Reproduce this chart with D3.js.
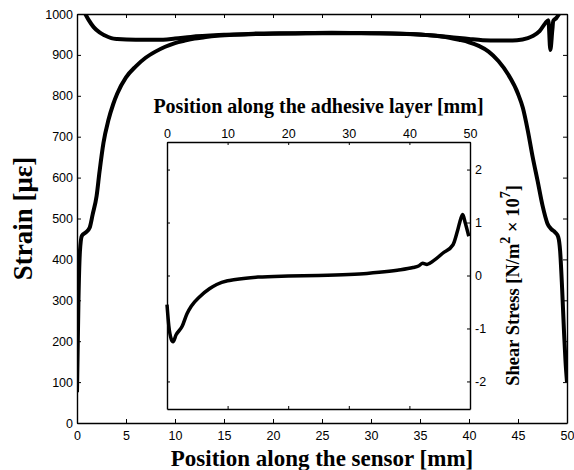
<!DOCTYPE html>
<html>
<head>
<meta charset="utf-8">
<script src="https://cdn.jsdelivr.net/npm/d3@7"></script>
<style>
  body { margin: 0; background: #fff; }
  .tick text { font-family: "Liberation Sans", Arial, sans-serif; font-size: 12.5px; fill: #000; }
  .axis path, .axis line { stroke: #000; }
  .title { font-family: "Liberation Serif", "Times New Roman", serif; font-weight: bold; fill: #000; }
</style>
</head>
<body>
<svg id="chart" width="574" height="470"></svg>
<script>
// strain along the sensor (lower "bathtub" curve)
const strainX = [0, 0.05, 0.15, 0.3, 0.5, 0.9, 1.3, 1.6, 2.0, 2.3, 2.7, 3.2, 3.7, 4.1, 5.0, 6.0, 7.0, 8.0, 9.0, 10, 11, 12, 13, 14, 16, 20, 25, 30, 34, 36, 38, 39, 40, 41, 42, 43, 44, 45, 45.5, 46, 46.5, 47, 47.5, 48, 48.4, 48.8, 49.1, 49.3, 49.5, 49.7, 49.85, 50]
const strainY = [75, 150, 300, 420, 458, 466, 478, 510, 555, 615, 685, 740, 780, 805, 845, 872, 893, 908, 920, 929, 935, 940, 943, 946, 949, 952, 953, 953, 951, 948, 942, 937, 931, 922, 908, 885, 852, 805, 770, 715, 650, 592, 532, 488, 474, 466, 455, 420, 330, 220, 150, 100]

// upper curve (near 940 µε)
const upperX = [0.85, 1.2, 1.7, 2.3, 2.8, 3.5, 4.1, 6, 8.2, 10, 11.6, 15, 18, 22, 26, 30, 33, 36, 38, 40, 41.4, 43, 44.9, 46, 46.5, 47.2, 47.8, 48.1, 48.3, 48.5, 48.6, 48.9, 49.2]
const upperY = [1000, 985, 968, 955, 948, 941, 939, 937, 937, 940, 944, 949, 952, 953, 954, 953, 952, 948, 944, 939, 936, 935, 936, 941, 946, 958, 978, 985, 912, 960, 983, 990, 1000]

// inset: shear stress along the adhesive layer
const shearX = [0, 0.3, 0.7, 1, 1.5, 2.5, 3.3, 4, 5.4, 7, 8.2, 10, 11, 13, 15, 20, 25, 30, 33, 35, 38, 40.6, 41.5, 42.2, 42.9, 44, 45.5, 47.2, 48, 48.5, 48.8, 49.2, 49.8]
const shearY = [-0.55, -0.95, -1.2, -1.25, -1.12, -0.96, -0.72, -0.58, -0.4, -0.25, -0.17, -0.1, -0.08, -0.05, -0.03, -0.01, 0, 0.02, 0.04, 0.06, 0.1, 0.15, 0.18, 0.23, 0.21, 0.28, 0.42, 0.58, 0.87, 1.08, 1.15, 1.0, 0.74]

const mainXTicks = [0, 5, 10, 15, 20, 25, 30, 35, 40, 45, 50]
const mainYTicks = [0, 100, 200, 300, 400, 500, 600, 700, 800, 900, 1000]
const insetXTicks = [0, 10, 20, 30, 40, 50]
const insetYTicks = [-2, -1, 0, 1, 2]

const svg = d3.select('#chart')
// plain hyphen for negatives, like the original figure
const fmt = d => String(d)

// main axes
const main = { left: 77, right: 567, top: 14, bottom: 423 }
const x = d3.scaleLinear().domain([0, 50]).range([main.left, main.right])
const y = d3.scaleLinear().domain([0, 1000]).range([main.bottom, main.top])

svg.append('clipPath').attr('id', 'mainClip')
    .append('rect')
    .attr('x', main.left).attr('y', main.top)
    .attr('width', main.right - main.left).attr('height', main.bottom - main.top)

const toPts = (xs, ys) => xs.map((d, i) => ({ x: d, y: ys[i] }))

const mainLine = d3.line()
    .curve(d3.curveMonotoneX)
    .x(d => x(d.x))
    .y(d => y(d.y))

svg.append('g').attr('clip-path', 'url(#mainClip)')
    .selectAll('path')
    .data([toPts(strainX, strainY), toPts(upperX, upperY)])
    .join('path')
    .attr('d', mainLine)
    .attr('fill', 'none')
    .attr('stroke', '#000')
    .attr('stroke-width', 4)
    .attr('stroke-linejoin', 'round')

svg.append('g').attr('class', 'axis')
    .attr('transform', 'translate(0,' + main.bottom + ')')
    .call(d3.axisBottom(x).tickValues(mainXTicks).tickFormat(fmt).tickSizeInner(-4).tickSizeOuter(0).tickPadding(8))
svg.append('g').attr('class', 'axis')
    .attr('transform', 'translate(0,' + main.top + ')')
    .call(d3.axisTop(x).tickValues(mainXTicks).tickSizeInner(-4).tickSizeOuter(0).tickFormat(''))
svg.append('g').attr('class', 'axis')
    .attr('transform', 'translate(' + main.left + ',0)')
    .call(d3.axisLeft(y).tickValues(mainYTicks).tickFormat(fmt).tickSizeInner(-4).tickSizeOuter(0).tickPadding(4))
svg.append('g').attr('class', 'axis')
    .attr('transform', 'translate(' + main.right + ',0)')
    .call(d3.axisRight(y).tickValues(mainYTicks).tickSizeInner(-4).tickSizeOuter(0).tickFormat(''))

svg.selectAll('.axis path').attr('stroke-width', 1.4)

svg.append('text').attr('class', 'title')
    .attr('x', (main.left + main.right) / 2).attr('y', 466)
    .attr('text-anchor', 'middle').style('font-size', '23px')
    .text('Position along the sensor [mm]')

svg.append('text').attr('class', 'title')
    .attr('transform', 'translate(32,' + ((main.top + main.bottom) / 2) + ') rotate(-90)')
    .attr('text-anchor', 'middle').style('font-size', '27px')
    .text('Strain [με]')

// inset axes
const ins = { left: 167, right: 470, top: 142, bottom: 409 }
const xi = d3.scaleLinear().domain([0, 50]).range([ins.left, ins.right])
const yi = d3.scaleLinear().domain([-2.52, 2.52]).range([ins.bottom, ins.top])

svg.append('rect')
    .attr('x', ins.left).attr('y', ins.top)
    .attr('width', ins.right - ins.left).attr('height', ins.bottom - ins.top)
    .attr('fill', '#fff')

const insetLine = d3.line()
    .curve(d3.curveMonotoneX)
    .x(d => xi(d.x))
    .y(d => yi(d.y))

svg.append('path')
    .datum(toPts(shearX, shearY))
    .attr('d', insetLine)
    .attr('fill', 'none')
    .attr('stroke', '#000')
    .attr('stroke-width', 3.5)
    .attr('stroke-linejoin', 'round')

svg.append('g').attr('class', 'axis inset')
    .attr('transform', 'translate(0,' + ins.top + ')')
    .call(d3.axisTop(xi).tickValues(insetXTicks).tickFormat(fmt).tickSizeInner(-3).tickSizeOuter(0).tickPadding(4))
svg.append('g').attr('class', 'axis inset')
    .attr('transform', 'translate(0,' + ins.bottom + ')')
    .call(d3.axisBottom(xi).tickValues(insetXTicks).tickSizeInner(-3).tickSizeOuter(0).tickFormat(''))
svg.append('g').attr('class', 'axis inset')
    .attr('transform', 'translate(' + ins.left + ',0)')
    .call(d3.axisLeft(yi).tickValues(insetYTicks).tickSizeInner(-3).tickSizeOuter(0).tickFormat(''))
svg.append('g').attr('class', 'axis inset')
    .attr('transform', 'translate(' + ins.right + ',0)')
    .call(d3.axisRight(yi).tickValues(insetYTicks).tickFormat(fmt).tickSizeInner(-3).tickSizeOuter(0).tickPadding(5))

svg.selectAll('.inset path').attr('stroke-width', 1.4)

svg.append('text').attr('class', 'title')
    .attr('x', (ins.left + ins.right) / 2).attr('y', 113)
    .attr('text-anchor', 'middle').style('font-size', '20px')
    .text('Position along the adhesive layer [mm]')

const shearLabel = svg.append('text').attr('class', 'title')
    .attr('transform', 'translate(519,' + ((ins.top + ins.bottom) / 2 + 10) + ') rotate(-90)')
    .attr('text-anchor', 'middle').style('font-size', '18.5px')
shearLabel.append('tspan').text('Shear Stress [N/m')
shearLabel.append('tspan').attr('dy', -9).style('font-size', '14px').text('2')
shearLabel.append('tspan').attr('dy', 9).text(' \u00d7 10')
shearLabel.append('tspan').attr('dy', -9).style('font-size', '14px').text('7')
shearLabel.append('tspan').attr('dy', 9).text(']')
</script>
</body>
</html>
